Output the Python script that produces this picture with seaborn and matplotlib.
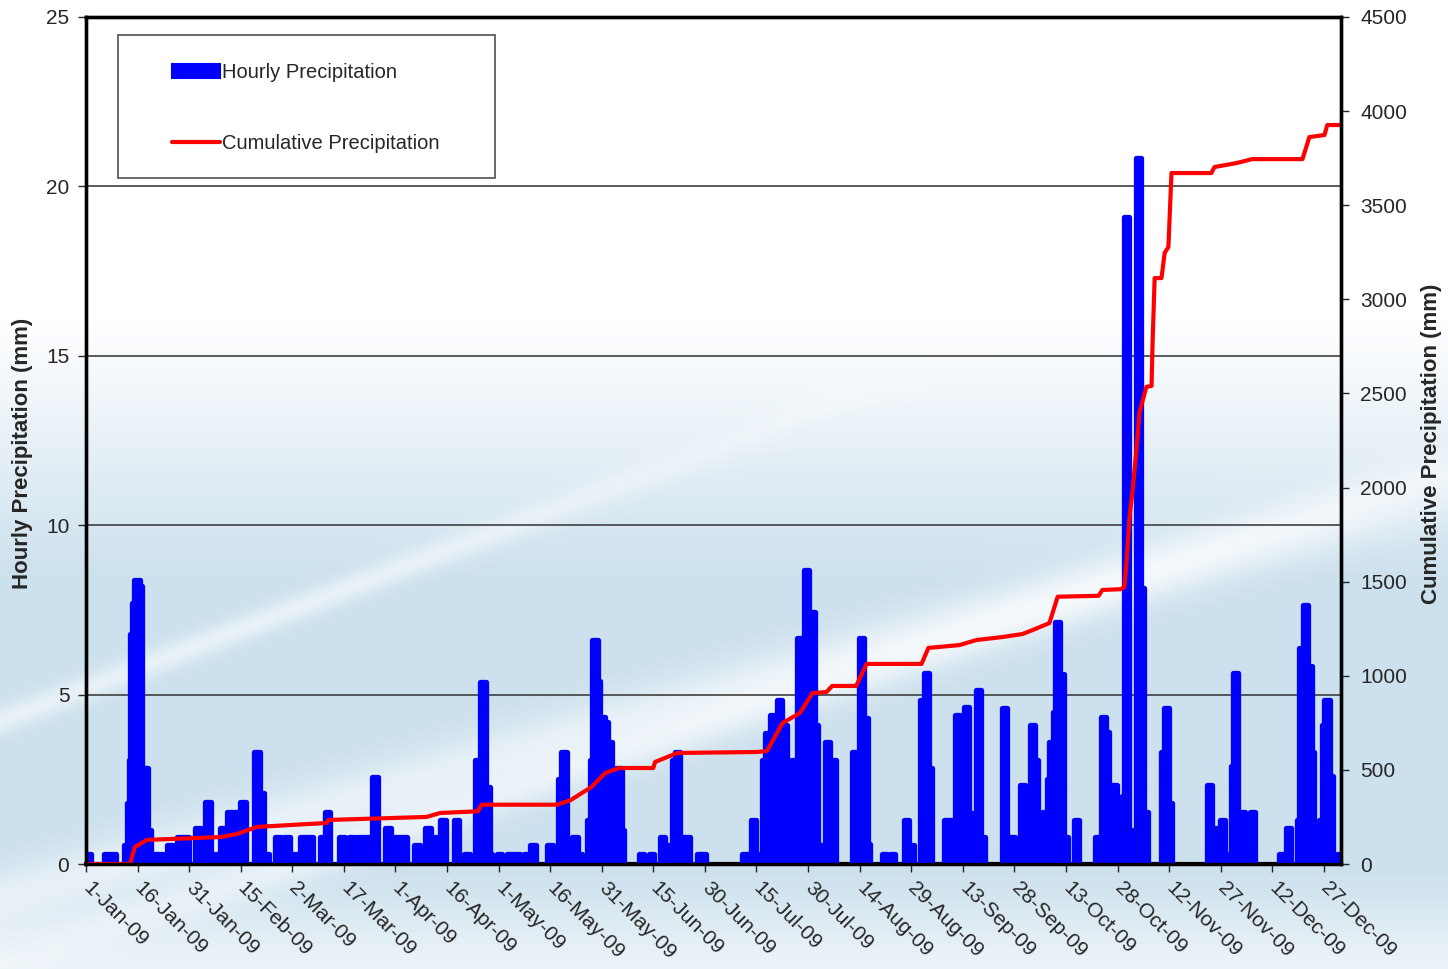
import numpy as np
import pandas as pd
import seaborn as sns
from matplotlib import pyplot as plt
from matplotlib.patches import Patch, Rectangle
from matplotlib.lines import Line2D

# hourly precipitation events (day of year from 1-Jan-09, mm)
bar_day = [0.6, 6.1, 7.8, 11.9, 12.8, 13.4, 13.7, 14.2, 14.9, 15.6, 16.6, 17.2, 18.0,
           20.0, 21.5, 24.4, 27.3, 29.1, 32.6, 35.5, 37.2, 39.8, 41.9, 43.9, 45.6,
           49.7, 50.9, 52.3, 55.8, 58.4, 60.5, 63.1, 65.1, 68.9, 70.3, 74.4, 77.3,
           79.7, 81.7, 84.0, 87.8, 90.7, 92.7, 96.2, 99.4, 100.9, 103.8, 107.8, 110.8,
           114.0, 115.4, 116.6, 117.4, 120.3, 123.3, 125.3, 128.2, 130.0, 134.9,
           138.1, 139.0, 140.7, 142.2, 143.6, 146.5, 147.3, 148.0, 148.8, 150.0,
           150.9, 152.2, 153.0, 155.0, 155.7, 161.6, 164.5, 167.7, 169.8, 171.2,
           172.1, 173.3, 175.0, 178.5, 179.4, 191.6, 193.0, 194.2, 195.0, 197.4,
           198.3, 199.7, 200.6, 201.7, 203.2, 204.7, 205.8, 207.6, 208.7, 209.6,
           211.3, 212.2, 213.4, 215.7, 217.2, 223.5, 225.6, 226.7, 227.3, 232.3,
           234.6, 238.7, 240.1, 243.3, 244.5, 245.3, 250.3, 251.7, 253.5, 254.9,
           256.1, 257.6, 259.6, 260.8, 267.2, 268.3, 269.5, 272.4, 273.5, 275.3,
           276.2, 277.3, 278.8, 280.2, 280.8, 282.0, 282.6, 283.7, 284.9, 288.1,
           294.2, 295.3, 295.9, 296.8, 298.0, 299.1, 302.0, 302.6, 303.5, 306.1,
           307.0, 308.0, 313.4, 314.2, 315.1, 326.7, 328.8, 330.5, 332.3, 333.7,
           334.3, 336.3, 339.2, 347.7, 349.7, 352.9, 353.5, 354.7, 355.8, 356.4,
           357.6, 359.3, 360.2, 361.0, 361.9, 364.5]
bar_mm = [0.3, 0.3, 0.3, 0.55, 1.8, 3.07, 6.8, 7.7, 8.38, 8.2, 2.83, 2.83, 1.0,
          0.3, 0.3, 0.55, 0.8, 0.8, 1.06, 1.84, 0.3, 1.06, 1.54, 1.54, 1.84,
          3.31, 2.1, 0.3, 0.8, 0.8, 0.3, 0.8, 0.8, 0.8, 1.54, 0.8, 0.8,
          0.8, 0.8, 2.58, 1.06, 0.8, 0.8, 0.55, 1.06, 0.8, 1.3, 1.3, 0.3,
          3.07, 5.38, 2.28, 0.3, 0.3, 0.3, 0.3, 0.3, 0.55, 0.55,
          2.5, 3.31, 0.55, 0.8, 0.3, 1.3, 3.07, 6.61, 5.4, 4.35,
          4.2, 3.61, 2.1, 2.82, 1.0, 0.3, 0.3, 0.8, 0.55, 3.07,
          3.31, 0.8, 0.8, 0.3, 0.3, 0.3, 0.3, 1.3, 0.3, 3.07,
          3.86, 4.4, 3.2, 4.84, 4.1, 1.5, 3.07, 6.66, 3.5, 8.68,
          7.45, 4.1, 0.55, 3.61, 3.07, 3.31, 6.66, 4.3, 0.6, 0.3,
          0.3, 1.3, 0.55, 4.84, 5.63, 2.83, 1.3, 1.3, 4.4, 1.0,
          4.64, 1.5, 5.14, 0.8, 4.6, 0.8, 0.8, 2.33, 0.6, 4.1,
          3.07, 1.3, 1.54, 2.5, 3.6, 4.5, 7.15, 5.6, 0.8, 1.3,
          0.8, 0.8, 4.35, 3.9, 1.8, 2.33, 2.0, 19.1, 1.0, 20.85,
          8.15, 1.54, 3.3, 4.6, 1.8, 2.33, 1.06, 1.3, 0.3, 2.9,
          5.63, 1.54, 1.54, 0.3, 1.06, 1.3, 6.37, 7.65, 5.85, 3.3,
          0.8, 1.3, 4.1, 4.84, 2.6, 0.3]

# cumulative precipitation (day of year, mm)
cum_day = [0, 12.8, 14.2, 17.7, 39.0, 44.0, 49.7, 70.0, 70.5, 99.0, 103.0, 114.0,
           115.0, 137.0, 141.0, 147.0, 151.0, 155.0, 165.0, 165.5, 172.0, 195.0,
           198.0, 202.6, 207.6, 211.3, 215.4, 217.0, 224.0, 227.0, 243.0, 245.0,
           254.0, 259.0, 266.6, 272.4, 275.3, 280.2, 282.6, 294.5, 295.6, 301.0,
           302.0, 302.6, 303.5, 304.4, 305.5, 306.4, 308.4, 309.9, 310.2, 310.8,
           312.8, 313.7, 314.8, 315.7, 327.3, 328.2, 334.6, 339.2, 353.8, 355.8,
           360.2, 361.0, 364.8]
cum_mm = [0, 0, 90, 128, 143, 160, 197, 218, 234, 250, 271, 280,
          315, 315, 340, 409, 483, 510, 510, 542, 590, 595,
          600, 749, 802, 908, 914, 946, 946, 1063, 1063, 1148,
          1163, 1190, 1206, 1222, 1243, 1280, 1420, 1425, 1456, 1460,
          1472, 1600, 1845, 1987, 2200, 2400, 2535, 2540, 2768, 3113,
          3113, 3246, 3278, 3671, 3671, 3703, 3724, 3745, 3745, 3862,
          3873, 3926, 3926]

tick_dates = pd.date_range('2009-01-01', periods=25, freq='15D')
tick_days = [(d - tick_dates[0]).days for d in tick_dates]
tick_labels = [f"{d.day}-{d.strftime('%b-%y')}" for d in tick_dates]

sns.set_style('white')
plt.rcParams['font.family'] = ['Liberation Sans', 'DejaVu Sans']

fig = plt.figure(figsize=(14.48, 9.69), dpi=100)

# background gradient with light streaks
H, W = 485, 724
yy, xx = np.mgrid[0:H, 0:W] * 2.0
t = np.clip((yy - 320) / 260, 0, 1) * (1 - 0.6 * np.clip((yy - 870) / 90, 0, 1))
blue = np.array([0.80, 0.88, 0.93])
img = (1 - t[..., None]) * 1.0 + t[..., None] * blue
for (x0, y0, x1, y1, wd) in [(80, 690, 420, 560, 14), (480, 800, 1180, 560, 22), (0, 900, 700, 700, 30)]:
    a = y0 - y1
    b = x1 - x0
    c = -(a * x0 + b * y0)
    dist = np.abs(a * xx + b * yy + c) / np.hypot(a, b)
    s = 0.55 * np.exp(-(dist / wd) ** 2) * t
    img = img * (1 - s[..., None]) + s[..., None]
bg = fig.add_axes([0, 0, 1, 1], zorder=-10)
bg.imshow(img, aspect='auto', extent=[0, 1, 0, 1], interpolation='bilinear')
bg.axis('off')

ax = fig.add_axes([86 / 1448, 105 / 969, 1255 / 1448, 847 / 969])
ax.patch.set_alpha(0)
ax2 = ax.twinx()
ax2.patch.set_alpha(0)

bars = ax.bar(bar_day, bar_mm, width=1.6, color='#0000ff', edgecolor='#0000ff',
              linewidth=3.8, zorder=3)
for p in bars:
    p.set_joinstyle('round')

sns.lineplot(x=cum_day, y=cum_mm, ax=ax2, color='#ff0000', linewidth=3,
             estimator=None, sort=False)

ax.set_xlim(0, 365)
ax.set_ylim(0, 25)
ax.set_yticks(range(0, 26, 5))
ax2.set_ylim(0, 4500)
ax2.set_yticks(range(0, 4501, 500))
ax.set_xticks(tick_days)
ax.set_xticklabels(tick_labels, rotation=-45, ha='left', va='center',
                   rotation_mode='anchor', fontsize=15)
for gy in [5, 10, 15, 20]:
    ax.axhline(gy, color='#404040', linewidth=1.2, zorder=1)

ax.tick_params(axis='y', labelsize=15, length=6, width=1, direction='out', left=True, pad=6)
ax.tick_params(axis='x', length=6, width=1, direction='out', bottom=True, pad=9)
ax2.tick_params(axis='y', labelsize=15, length=6, width=1, direction='out', right=True, pad=8)
for a in (ax, ax2):
    for s in a.spines.values():
        s.set_color('black')
        s.set_linewidth(2.4)
ax.spines['bottom'].set_linewidth(3)

lab_font = dict(family=['Liberation Sans Narrow', 'DejaVu Sans Condensed', 'Liberation Sans'],
                weight='bold', size=16)
ax.set_ylabel('Hourly Precipitation (mm)', fontdict=lab_font)
ax2.set_ylabel('Cumulative Precipitation (mm)', fontdict=lab_font)
ax.yaxis.set_label_coords(-0.042, 0.485)
ax2.yaxis.set_label_coords(1.064, 0.496)
ax.set_xlabel('')
ax2.set_xlabel('')

# legend box
ax2.add_patch(Rectangle((32 / 1255, (864 - 178) / 847), 377 / 1255, 143 / 847,
                        transform=ax2.transAxes, facecolor='white', edgecolor='#505050',
                        linewidth=1.2, zorder=5))
handles = [Patch(facecolor='#0000ff', edgecolor='#0000ff', linewidth=1.5),
           Line2D([], [], color='#ff0000', linewidth=3)]
leg = ax2.legend(handles, ['Hourly Precipitation', 'Cumulative Precipitation'],
                 loc='upper left', bbox_to_anchor=(86 / 1255, (864 - 63) / 847),
                 frameon=False, fontsize=14.5, handlelength=2.4, handletextpad=0.1,
                 labelspacing=2.6, borderpad=0, borderaxespad=0)
leg.set_zorder(6)

fig.savefig('out.png', dpi=100)
